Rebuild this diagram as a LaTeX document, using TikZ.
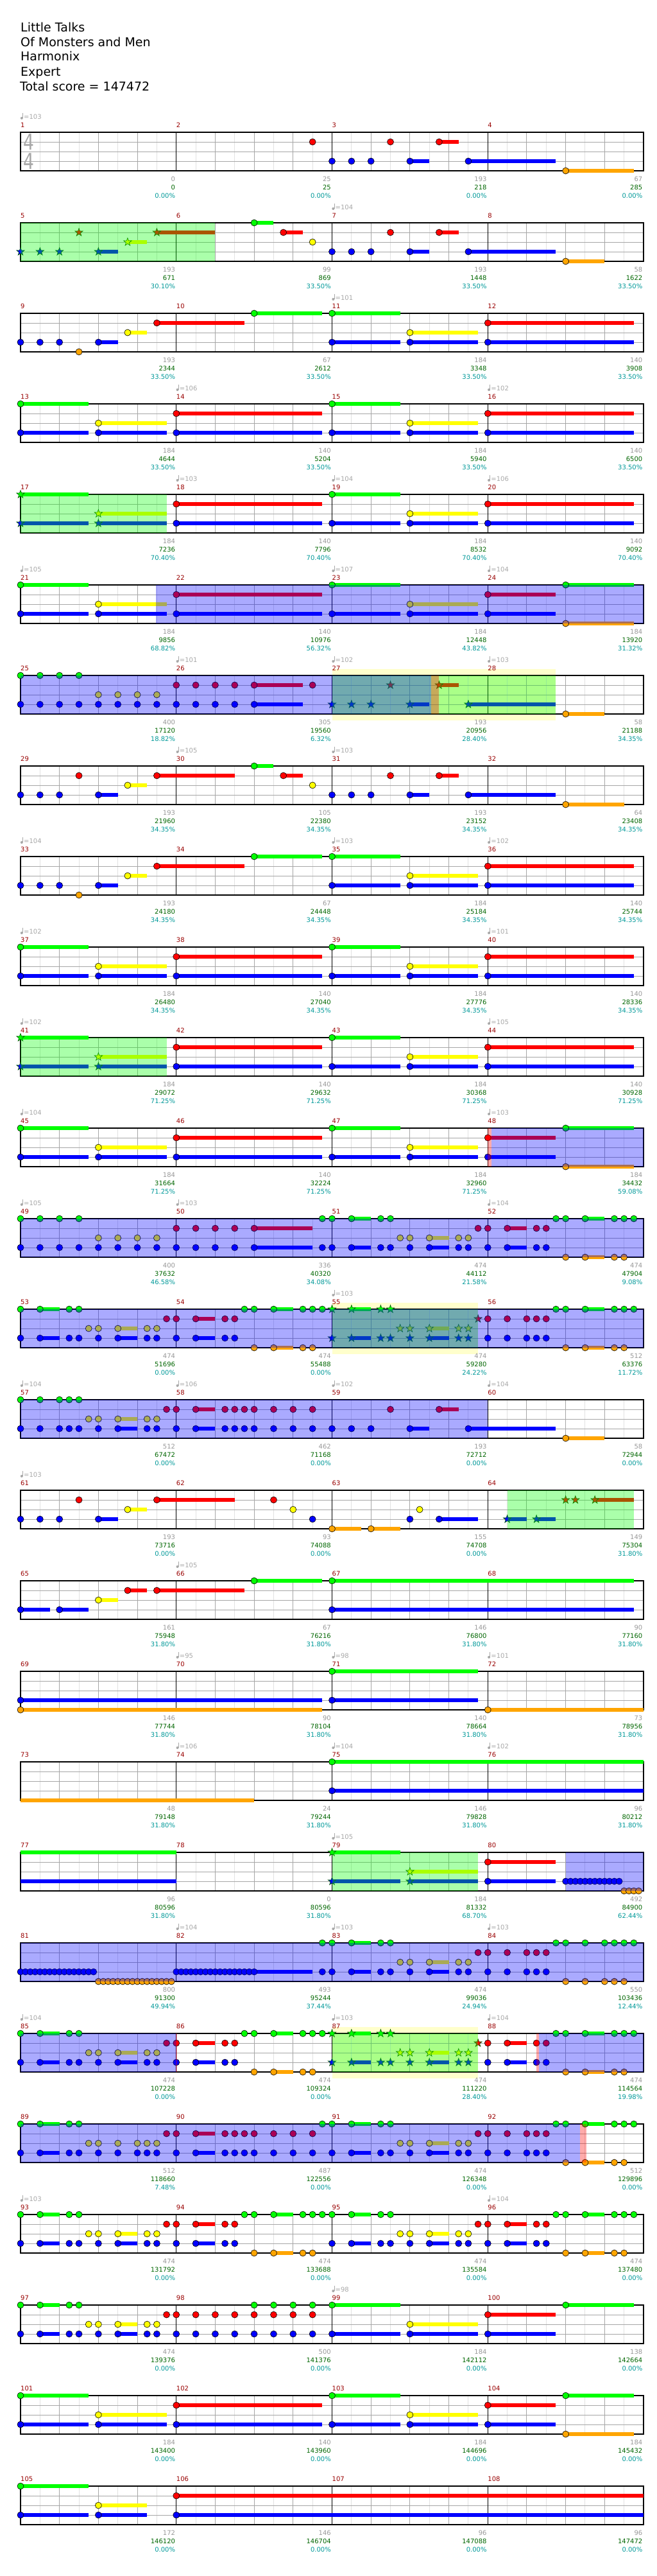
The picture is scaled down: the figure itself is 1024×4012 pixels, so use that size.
\documentclass[tikz,border=0pt]{standalone}
\usepackage{fontspec}
\setmainfont{DejaVu Sans}
\definecolor{ln0}{HTML}{00FF00}
\definecolor{ln1}{HTML}{FF0000}
\definecolor{ln2}{HTML}{FFFF00}
\definecolor{ln3}{HTML}{0000FF}
\definecolor{ln4}{HTML}{FFA500}
\definecolor{ovg}{HTML}{00FF00}
\definecolor{ovb}{HTML}{0000FF}
\definecolor{ovr}{HTML}{FF0000}
\definecolor{stk}{HTML}{005500}
\definecolor{mnc}{HTML}{990000}
\definecolor{gnum}{HTML}{999999}
\definecolor{snum}{HTML}{006600}
\definecolor{pnum}{HTML}{009999}
\definecolor{tmpc}{HTML}{A8A8A8}
\definecolor{ybg}{HTML}{FFFFCC}
\definecolor{gla}{HTML}{E2E2E2}
\definecolor{glb}{HTML}{A6A6A6}
\newcounter{nd}
\tikzset{
 sm/.style={font=\fontsize{10}{12}\selectfont, inner sep=0pt},
 ttl/.style={font=\fontsize{19}{23}\selectfont, inner sep=0pt, anchor=base west},
}
\newcommand\SetRow[1]{\pgfmathsetmacro\RY{206+141*#1}}
\newcommand\Grid[1]{%
 \foreach \k in {1,...,31}{\draw[gla, line width=1pt] ({32+30.34375*\k},\RY) -- ++(0,60);}
 \foreach \k in {1,...,15}{\draw[glb, line width=1pt] ({32+60.6875*\k},\RY) -- ++(0,60);}
 \foreach \q in {1,2,3}{\draw[glb, line width=1pt] (32,\RY+15*\q) -- (1003,\RY+15*\q);}
 \foreach \k in {1,2,3}{\draw[black, line width=1pt] ({32+242.75*\k},\RY) -- ++(0,60);}
 \draw[black, line width=1.3pt] (32,\RY) rectangle (1003,\RY+60);
 \foreach \k in {0,...,3}{\pgfmathtruncatemacro\mm{#1+\k}\stepcounter{nd}\node[sm, text=mnc, anchor=base west] (n\arabic{nd}) at ({32+242.75*\k},\RY-8) {\mm};}
}
\newcommand\nC[3]{%
 \pgfmathsetmacro\nx{32+15.172*(#1)}%
 \pgfmathsetmacro\ny{\RY+15*(#2)}%
 \ifnum#3>0 \fill[ln#2] (\nx,\ny-3.2) rectangle ({32+15.172*(#1+#3)},\ny+3.2);\fi
 \draw[fill=ln#2, line width=0.6pt] (\nx,\ny) circle[radius=5];}
\newcommand\nS[3]{%
 \pgfmathsetmacro\nx{32+15.172*(#1)}%
 \pgfmathsetmacro\ny{\RY+15*(#2)}%
 \ifnum#3>0 \fill[ln#2] (\nx,\ny-3.2) rectangle ({32+15.172*(#1+#3)},\ny+3.2);\fi
 \draw[fill=ln#2, draw=stk, line width=0.6pt, shift={(\nx,\ny)}] (-90:6.5) -- (-54:2.6) -- (-18:6.5) -- (18:2.6) -- (54:6.5) -- (90:2.6) -- (126:6.5) -- (162:2.6) -- (198:6.5) -- (234:2.6) -- cycle;}
\newcommand\nB[3]{\fill[ln#2] ({32+15.172*(#1)},\RY+15*#2-3.2) rectangle ({32+15.172*(#3)},\RY+15*#2+3.2);}
\newcommand\nCs[2]{\foreach \g in {#2}{\nC{\g}{#1}{0}}}
\newcommand\nSs[2]{\foreach \g in {#2}{\nS{\g}{#1}{0}}}
\newcommand\Ov[3]{\fill[#1, opacity=0.333] ({32+15.172*(#2)},\RY) rectangle ({32+15.172*(#3)},\RY+60);}
\newcommand\Yb[2]{\fill[ybg] ({32+15.172*(#1)},\RY-10) rectangle ({32+15.172*(#2)},\RY+70);}
\newcommand\Tp[2]{\pgfmathsetmacro\tx{32+242.75*#1}%
 \fill[tmpc] (\tx+1.8,\RY-22) circle[radius=2];
 \draw[tmpc, line width=0.7pt] (\tx+3.5,\RY-22) -- (\tx+3.5,\RY-30);
 \stepcounter{nd}\node[sm, text=tmpc, anchor=base west] (n\arabic{nd}) at (\tx+5,\RY-20.5) {=#2};}
\newcommand\Sc[4]{\pgfmathsetmacro\sx{32+242.75*(#1+1)-1.5}%
 \stepcounter{nd}\node[sm, text=gnum, anchor=base east] (n\arabic{nd}) at (\sx,\RY+76) {#2};
 \stepcounter{nd}\node[sm, text=snum, anchor=base east] (n\arabic{nd}) at (\sx,\RY+89) {#3};
 \stepcounter{nd}\node[sm, text=pnum, anchor=base east] (n\arabic{nd}) at (\sx,\RY+102) {#4\%};}
% patterns
\newcommand\ptA{\nC{16}{1}{15}\nC{16}{3}{15}\nC{32}{0}{7}\nC{32}{3}{7}\nC{40}{2}{7}\nC{40}{3}{7}}
\newcommand\ptAc{\nC{0}{0}{7}\nC{8}{2}{7}\nC{0}{3}{7}\nC{8}{3}{7}}
\newcommand\ptAs{\nS{0}{0}{7}\nS{8}{2}{7}\nS{0}{3}{7}\nS{8}{3}{7}}
\newcommand\ptEa{\nC{48}{1}{15}\nC{48}{3}{15}}
\newcommand\ptEb{\nC{48}{1}{7}\nC{48}{3}{7}\nC{56}{0}{7}\nC{56}{4}{7}}
\newcommand\ptB{\nCs{3}{0,2,4}\nCs{4}{6}\nC{8}{3}{2}\nC{11}{2}{2}\nC{14}{1}{9}\nC{24}{0}{7}\nC{32}{0}{7}\nC{32}{3}{7}\nC{40}{2}{7}\nC{40}{3}{7}\ptEa}
\newcommand\ptY{\nCs{0}{0,5,6,23,24,29,30,31}\nC{2}{0}{2}\nC{26}{0}{2}\nCs{2}{7,8,13,14}\nC{10}{2}{2}\nCs{1}{15,16,21,22}\nC{18}{1}{2}\nCs{3}{0,5,6,8,13,14,16,21,22}\nC{2}{3}{2}\nC{10}{3}{2}\nC{18}{3}{2}\nCs{4}{24,29,30}\nC{26}{4}{2}}
\newcommand\ptS{\nSs{0}{32,37,38}\nS{34}{0}{2}\nSs{2}{39,40,45,46}\nS{42}{2}{2}\nSs{1}{47}\nSs{3}{32,37,38,40,45,46}\nS{34}{3}{2}\nS{42}{3}{2}}
\newcommand\ptC{\nCs{0}{32,37,38}\nC{34}{0}{2}\nCs{2}{39,40,45,46}\nC{42}{2}{2}\nCs{1}{47}\nCs{3}{32,37,38,40,45,46}\nC{34}{3}{2}\nC{42}{3}{2}}
\newcommand\ptZ{\nCs{1}{48,53,54}\nC{50}{1}{2}\nCs{3}{48,53,54}\nC{50}{3}{2}\nCs{0}{55,56,61,62,63}\nC{58}{0}{2}\nCs{4}{56,61,62}\nC{58}{4}{2}}
\begin{document}
\begin{tikzpicture}[x=1pt,y=-1pt]
\fill[white] (0,0) rectangle (1024,4012);
\useasboundingbox (0,0) rectangle (1024,4012);
\node[ttl] (title1) at (32,49) {Little Talks};
\node[ttl] (title2) at (32,72) {Of Monsters and Men};
\node[ttl] (title3) at (32,95) {Harmonix};
\node[ttl] (title4) at (32,118) {Expert};
\node[ttl] (title5) at (31,141) {Total score = 147472};
% Row 0
\SetRow{0}\Grid{1}
\node[font=\fontsize{34}{34}\selectfont, text=tmpc, inner sep=0pt, anchor=base, xscale=0.78] (ts1) at (44.5,233) {4};
\node[font=\fontsize{34}{34}\selectfont, text=tmpc, inner sep=0pt, anchor=base, xscale=0.78] (ts2) at (44.5,263) {4};
\nCs{1}{30,38}\nC{43}{1}{2}
\nCs{3}{32,34,36}\nC{40}{3}{2}\nC{46}{3}{9}
\nC{56}{4}{7}
\Tp{0}{103}
\Sc{0}{0}{0}{0.00}\Sc{1}{25}{25}{0.00}\Sc{2}{193}{218}{0.00}\Sc{3}{67}{285}{0.00}
% Row 1
\SetRow{1}\Grid{5}
\nSs{3}{0,2,4}\nS{6}{1}{0}\nS{8}{3}{2}\nS{11}{2}{2}\nS{14}{1}{6}
\nC{24}{0}{2}\nC{27}{1}{2}\nCs{2}{30}\nCs{1}{38}\nC{43}{1}{2}
\nCs{3}{32,34,36}\nC{40}{3}{2}\nC{46}{3}{9}\nC{56}{4}{4}
\Ov{ovg}{0}{20}
\Tp{2}{104}
\Sc{0}{193}{671}{30.10}\Sc{1}{99}{869}{33.50}\Sc{2}{193}{1448}{33.50}\Sc{3}{58}{1622}{33.50}
% Row 2
\SetRow{2}\Grid{9}\ptB
\Tp{2}{101}
\Sc{0}{193}{2344}{33.50}\Sc{1}{67}{2612}{33.50}\Sc{2}{184}{3348}{33.50}\Sc{3}{140}{3908}{33.50}
% Row 3
\SetRow{3}\Grid{13}\ptAc\ptA\ptEa
\Tp{1}{106}\Tp{3}{102}
\Sc{0}{184}{4644}{33.50}\Sc{1}{140}{5204}{33.50}\Sc{2}{184}{5940}{33.50}\Sc{3}{140}{6500}{33.50}
% Row 4
\SetRow{4}\Grid{17}\ptAs\ptA\ptEa\Ov{ovg}{0}{15}
\Tp{1}{103}\Tp{2}{104}\Tp{3}{106}
\Sc{0}{184}{7236}{70.40}\Sc{1}{140}{7796}{70.40}\Sc{2}{184}{8532}{70.40}\Sc{3}{140}{9092}{70.40}
% Row 5
\SetRow{5}\Grid{21}\ptAc\ptA\ptEb\Ov{ovb}{13.9}{64}
\Tp{0}{105}\Tp{2}{107}\Tp{3}{104}
\Sc{0}{184}{9856}{68.82}\Sc{1}{140}{10976}{56.32}\Sc{2}{184}{12448}{43.82}\Sc{3}{184}{13920}{31.32}
% Row 6
\SetRow{6}\Yb{32}{55}\Grid{25}
\nCs{0}{0,2,4,6}\nCs{2}{8,10,12,14}\nCs{1}{16,18,20,22,30}\nC{24}{1}{5}
\nCs{3}{0,2,...,22}\nC{24}{3}{5}
\nSs{3}{32,34,36}\nS{38}{1}{0}\nS{40}{3}{2}\nS{43}{1}{2}\nS{46}{3}{9}\nC{56}{4}{4}
\Ov{ovg}{32}{55}\Ov{ovb}{0}{42.2}\Ov{ovr}{42.2}{43}
\Tp{1}{101}\Tp{2}{102}\Tp{3}{103}
\Sc{0}{400}{17120}{18.82}\Sc{1}{305}{19560}{6.32}\Sc{2}{193}{20956}{28.40}\Sc{3}{58}{21188}{34.35}
% Row 7
\SetRow{7}\Grid{29}
\nCs{3}{0,2,4}\nCs{1}{6}\nC{8}{3}{2}\nC{11}{2}{2}\nC{14}{1}{8}\nC{24}{0}{2}\nC{27}{1}{2}\nCs{2}{30}\nCs{3}{32,34,36}\nCs{1}{38}\nC{40}{3}{2}\nC{43}{1}{2}\nC{46}{3}{9}\nC{56}{4}{6}
\Tp{1}{105}\Tp{2}{103}
\Sc{0}{193}{21960}{34.35}\Sc{1}{105}{22380}{34.35}\Sc{2}{193}{23152}{34.35}\Sc{3}{64}{23408}{34.35}
% Row 8
\SetRow{8}\Grid{33}\ptB
\Tp{0}{104}\Tp{2}{103}\Tp{3}{102}
\Sc{0}{193}{24180}{34.35}\Sc{1}{67}{24448}{34.35}\Sc{2}{184}{25184}{34.35}\Sc{3}{140}{25744}{34.35}
% Row 9
\SetRow{9}\Grid{37}\ptAc\ptA\ptEa
\Tp{0}{102}\Tp{3}{101}
\Sc{0}{184}{26480}{34.35}\Sc{1}{140}{27040}{34.35}\Sc{2}{184}{27776}{34.35}\Sc{3}{140}{28336}{34.35}
% Row 10
\SetRow{10}\Grid{41}\ptAs\ptA\ptEa\Ov{ovg}{0}{15}
\Tp{0}{102}\Tp{3}{105}
\Sc{0}{184}{29072}{71.25}\Sc{1}{140}{29632}{71.25}\Sc{2}{184}{30368}{71.25}\Sc{3}{140}{30928}{71.25}
% Row 11
\SetRow{11}\Grid{45}\ptAc\ptA\ptEb\Ov{ovr}{48}{48.4}\Ov{ovb}{48.4}{64}
\Tp{0}{104}\Tp{3}{103}
\Sc{0}{184}{31664}{71.25}\Sc{1}{140}{32224}{71.25}\Sc{2}{184}{32960}{71.25}\Sc{3}{184}{34432}{59.08}
% Row 12
\SetRow{12}\Grid{49}
\nCs{0}{0,2,4,6,31,32,37,38,55,56,61,62,63}\nC{34}{0}{2}\nC{58}{0}{2}
\nCs{2}{8,10,12,14,39,40,45,46}\nC{42}{2}{2}
\nCs{1}{16,18,20,22,47,48,53,54}\nC{24}{1}{6}\nC{50}{1}{2}
\nCs{3}{0,2,...,22}\nC{24}{3}{6}\nCs{3}{31,32,37,38,40,45,46,48,53,54}\nC{34}{3}{2}\nC{42}{3}{2}\nC{50}{3}{2}
\nCs{4}{56,61,62}\nC{58}{4}{2}
\Ov{ovb}{0}{64}
\Tp{0}{105}\Tp{1}{103}\Tp{3}{104}
\Sc{0}{400}{37632}{46.58}\Sc{1}{336}{40320}{34.08}\Sc{2}{474}{44112}{21.58}\Sc{3}{474}{47904}{9.08}
% Row 13
\SetRow{13}\Yb{32}{47}\Grid{53}
\ptY\ptS
\nCs{1}{48,50,52,53,54}\nCs{3}{48,50,52,53,54}\nCs{0}{55,56,61,62,63}\nC{58}{0}{2}\nCs{4}{56,61,62}\nC{58}{4}{2}
\Ov{ovg}{32}{47}\Ov{ovb}{0}{64}
\Tp{2}{103}
\Sc{0}{474}{51696}{0.00}\Sc{1}{474}{55488}{0.00}\Sc{2}{474}{59280}{24.22}\Sc{3}{512}{63376}{11.72}
% Row 14
\SetRow{14}\Grid{57}
\nCs{0}{0,2,4,5,6}
\nCs{2}{7,8,13,14}\nC{10}{2}{2}
\nCs{1}{15,16,21,22,23,24,26,28,30,38}\nC{18}{1}{2}\nC{43}{1}{2}
\nCs{3}{0,2,4,5,6,8,13,14,16,21,22,23,24,26,28,30,32,34,36}\nC{10}{3}{2}\nC{18}{3}{2}\nC{40}{3}{2}\nC{46}{3}{9}
\nC{56}{4}{4}
\Ov{ovb}{0}{48}
\Tp{0}{104}\Tp{1}{106}\Tp{2}{102}\Tp{3}{104}
\Sc{0}{512}{67472}{0.00}\Sc{1}{462}{71168}{0.00}\Sc{2}{193}{72712}{0.00}\Sc{3}{58}{72944}{0.00}
% Row 15
\SetRow{15}\Grid{61}
\nCs{3}{0,2,4,30,40}\nC{8}{3}{2}\nC{43}{3}{4}
\nCs{1}{6,26}\nC{14}{1}{8}
\nC{11}{2}{2}\nCs{2}{28,41}
\nC{32}{4}{3}\nC{36}{4}{3}
\nS{50}{3}{2}\nS{53}{3}{2}\nSs{1}{56,57}\nS{59}{1}{4}
\Ov{ovg}{50}{63}
\Tp{0}{103}
\Sc{0}{193}{73716}{0.00}\Sc{1}{93}{74088}{0.00}\Sc{2}{155}{74708}{0.00}\Sc{3}{149}{75304}{31.80}
% Row 16
\SetRow{16}\Grid{65}
\nC{0}{3}{3}\nC{4}{3}{3}\nC{8}{2}{2}\nC{11}{1}{2}\nC{14}{1}{9}\nC{24}{0}{7}\nC{32}{0}{31}\nC{32}{3}{31}
\Tp{1}{105}
\Sc{0}{161}{75948}{31.80}\Sc{1}{67}{76216}{31.80}\Sc{2}{146}{76800}{31.80}\Sc{3}{90}{77160}{31.80}
% Row 17
\SetRow{17}\Grid{69}
\nC{0}{3}{31}\nC{0}{4}{31}\nC{32}{0}{15}\nC{32}{3}{15}\nC{48}{4}{16}
\Tp{1}{95}\Tp{2}{98}\Tp{3}{101}
\Sc{0}{146}{77744}{31.80}\Sc{1}{90}{78104}{31.80}\Sc{2}{140}{78664}{31.80}\Sc{3}{73}{78956}{31.80}
% Row 18
\SetRow{18}\Grid{73}
\nB{0}{4}{24}\nC{32}{0}{32}\nC{32}{3}{32}
\Tp{1}{106}\Tp{2}{104}\Tp{3}{102}
\Sc{0}{48}{79148}{31.80}\Sc{1}{24}{79244}{31.80}\Sc{2}{146}{79828}{31.80}\Sc{3}{96}{80212}{31.80}
% Row 19
\SetRow{19}\Grid{77}
\nB{0}{0}{16}\nB{0}{3}{16}
\nS{32}{0}{7}\nS{32}{3}{7}\nS{40}{2}{7}\nS{40}{3}{7}
\nC{48}{1}{7}\nC{48}{3}{7}
\nCs{3}{56,56.5,57,57.5,58,58.5,59,59.5,60,60.5,61,61.5}
\nCs{4}{62,62.5,63,63.5}
\Ov{ovg}{32}{47}\Ov{ovb}{56}{64}
\Tp{2}{105}
\Sc{0}{96}{80596}{31.80}\Sc{1}{0}{80596}{31.80}\Sc{2}{184}{81332}{68.70}\Sc{3}{492}{84900}{62.44}
% Row 20
\SetRow{20}\Grid{81}
\nCs{3}{0,0.5,1,1.5,2,2.5,3,3.5,4,4.5,5,5.5,6,6.5,7,7.5}
\nCs{4}{8,8.5,9,9.5,10,10.5,11,11.5,12,12.5,13,13.5,14,14.5,15,15.5}
\nCs{3}{16,16.5,17,17.5,18,18.5,19,19.5,20,20.5,21,21.5,22,22.5,23,23.5}\nC{24}{3}{6}
\nCs{0}{31,32,37,38,55,56,58,60,61,62,63}\nC{34}{0}{2}
\nCs{2}{39,40,45,46}\nC{42}{2}{2}
\nCs{1}{47,48,50,52,53,54}
\nCs{3}{31,32,37,38,40,45,46,48,50,52,53,54}\nC{34}{3}{2}\nC{42}{3}{2}
\nCs{4}{56,58,60,61,62}
\Ov{ovb}{0}{64}
\Tp{1}{104}\Tp{2}{103}\Tp{3}{103}
\Sc{0}{800}{91300}{49.94}\Sc{1}{493}{95244}{37.44}\Sc{2}{474}{99036}{24.94}\Sc{3}{550}{103436}{12.44}
% Row 21
\SetRow{21}\Yb{32}{47}\Grid{85}
\ptY\ptS\ptZ
\Ov{ovb}{0}{16}\Ov{ovr}{15.95}{16.1}\Ov{ovg}{32}{47}\Ov{ovr}{53}{53.25}\Ov{ovb}{53.25}{64}
\Tp{0}{104}\Tp{2}{103}\Tp{3}{104}
\Sc{0}{474}{107228}{0.00}\Sc{1}{474}{109324}{0.00}\Sc{2}{474}{111220}{28.40}\Sc{3}{474}{114564}{19.98}
% Row 22
\SetRow{22}\Grid{89}
\nCs{0}{0,5,6,31,32,37,38,55,56,61,62,63}\nC{2}{0}{2}\nC{34}{0}{2}\nC{58}{0}{2}
\nCs{2}{7,8,10,12,13,14,39,40,45,46}\nC{42}{2}{2}
\nCs{1}{15,16,21,22,23,24,26,28,30,47,48,50,52,53,54}\nC{18}{1}{2}
\nCs{3}{0,5,6,8,10,12,13,14,16,21,22,23,24,26,28,30,32,37,38,40,45,46,48,50,52,53,54}\nC{2}{3}{2}\nC{18}{3}{2}\nC{34}{3}{2}\nC{42}{3}{2}
\nCs{4}{56,61,62}\nC{58}{4}{2}
\Ov{ovb}{0}{57.5}\Ov{ovr}{57.5}{58.1}
\Sc{0}{512}{118660}{7.48}\Sc{1}{487}{122556}{0.00}\Sc{2}{474}{126348}{0.00}\Sc{3}{512}{129896}{0.00}
% Row 23
\SetRow{23}\Grid{93}
\ptY\ptC\ptZ
\Tp{0}{103}\Tp{3}{104}
\Sc{0}{474}{131792}{0.00}\Sc{1}{474}{133688}{0.00}\Sc{2}{474}{135584}{0.00}\Sc{3}{474}{137480}{0.00}
% Row 24
\SetRow{24}\Grid{97}
\nCs{0}{0,5,6,24,26,28,30}\nC{2}{0}{2}\nC{32}{0}{7}\nC{56}{0}{7}
\nCs{2}{7,8,13,14}\nC{10}{2}{2}\nC{40}{2}{7}
\nCs{1}{15,16,18,20,22,24,26,28,30}\nC{48}{1}{7}
\nCs{3}{0,5,6,8,13,14,16,18,20,22,24,26,28,30}\nC{2}{3}{2}\nC{10}{3}{2}\nC{32}{3}{7}\nC{40}{3}{7}\nC{48}{3}{7}
\Tp{2}{98}
\Sc{0}{474}{139376}{0.00}\Sc{1}{500}{141376}{0.00}\Sc{2}{184}{142112}{0.00}\Sc{3}{138}{142664}{0.00}
% Row 25
\SetRow{25}\Grid{101}\ptAc\ptA\ptEb
\Sc{0}{184}{143400}{0.00}\Sc{1}{140}{143960}{0.00}\Sc{2}{184}{144696}{0.00}\Sc{3}{184}{145432}{0.00}
% Row 26
\SetRow{26}\Grid{105}
\nC{0}{0}{7}\nC{8}{2}{5}\nC{0}{3}{7}\nC{8}{3}{5}\nC{16}{1}{48}\nC{16}{3}{48}
\Sc{0}{172}{146120}{0.00}\Sc{1}{146}{146704}{0.00}\Sc{2}{96}{147088}{0.00}\Sc{3}{96}{147472}{0.00}
\end{tikzpicture}
\end{document}
